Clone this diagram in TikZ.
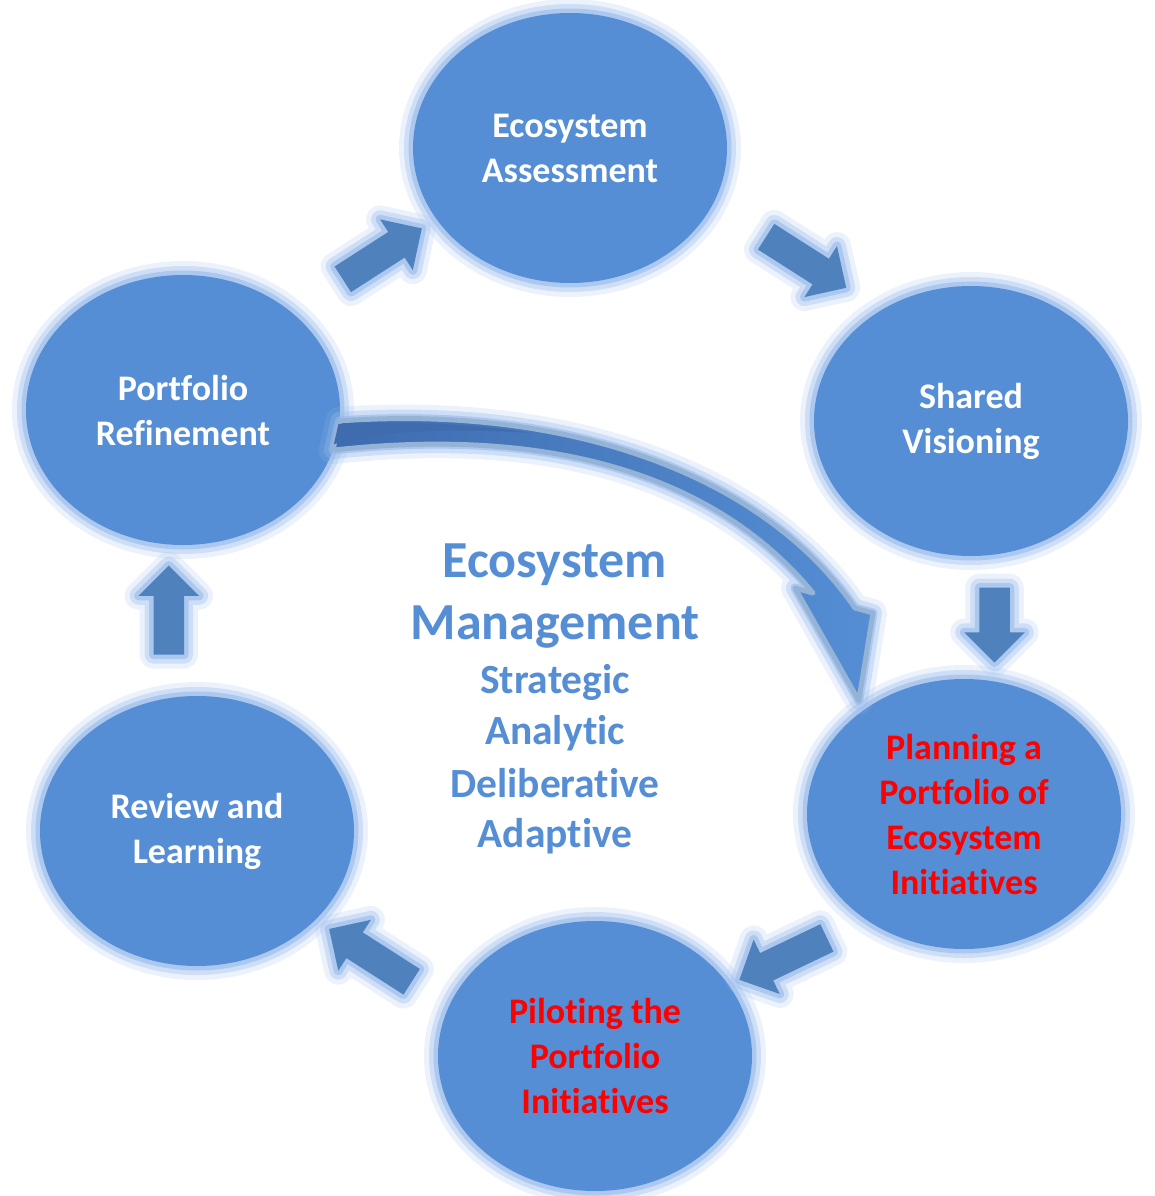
\documentclass[tikz,border=0pt]{standalone}
\usepackage{fontspec}
\setmainfont{Carlito}[Ligatures=NoCommon]
\usetikzlibrary{shapes.geometric,shapes.arrows,calc}
\definecolor{nodeblue}{RGB}{85,142,213}
\definecolor{arrblue}{RGB}{79,129,189}
\definecolor{darkblue}{RGB}{62,108,174}
\definecolor{glowblue}{RGB}{150,185,235}
\definecolor{rimgray}{RGB}{149,179,215}
\definecolor{hotred}{RGB}{255,0,0}
\tikzset{
  glow/.style={preaction={draw=glowblue,line width=28pt,opacity=.18,line join=round},
    preaction={draw=glowblue,line width=18pt,opacity=.35,line join=round},
    preaction={draw=glowblue,line width=9pt,opacity=.6,line join=round}},
  bubble/.style={ellipse,glow,fill=nodeblue,minimum width=314pt,minimum height=270pt,
    inner sep=0pt,outer sep=0pt,align=center,text=white,font=\bfseries\fontsize{36}{45}\selectfont},
  blockarrow/.style={single arrow,glow,fill=arrblue,single arrow head extend=15pt,
    text height=30pt,text depth=0pt,minimum width=60pt,inner sep=0pt,outer sep=0pt},
  midtext/.style={text=nodeblue,font=\bfseries\fontsize{#1}{#1}\selectfont,anchor=base}
}
\begin{document}
\begin{tikzpicture}[x=1pt,y=-1pt]
\useasboundingbox (0,0) rectangle (1154,1196);
% the six steps
\foreach \n/\p/\c/\t in {
  assess/{570,148}/white/{Ecosystem\\Assessment},
  vision/{971,421}/white/{Shared\\Visioning},
  plan/{964,814}/hotred/{Planning a\\Portfolio of\\Ecosystem\\Initiatives},
  pilot/{595,1056}/hotred/{Piloting the\\Portfolio\\Initiatives},
  review/{197,831}/white/{Review and\\Learning},
  refine/{183,410}/white/{Portfolio\\Refinement}}
  \node[bubble,text=\c] (\n) at (\p) {\t};
% block arrows round the cycle: from/to/gap to middle/length
\foreach \a/\b/\gap/\len [count=\i] in {refine.42/assess.208/100.5/94,
  assess.-21/vision.129/102.5/95, vision.-80/plan.77/63/75,
  plan.227/pilot.28/84/97, pilot.161/review.-37/86/98, review.102/refine.-96/80.5/89}
  \path let \p1=(\a), \p2=(\b), \n1={atan2(\y2-\y1,\x2-\x1)} in
    ($(\p1)!\gap pt!(\p2)$) node[blockarrow,rotate=\n1,minimum height=\len pt] (arr\i) {};
% curved shortcut
\path[glow,left color=darkblue,right color=nodeblue,draw=rimgray,line width=5pt,line join=round]
  (refine.-4) .. controls (560,405) and (760,470) .. (855,608) -- (873,613)
  -- ([shift={(-7,-8)}]plan.133) -- (795,588) -- (813,593)
  .. controls (720,480) and (560,425) .. (refine.-15) -- cycle;
\fill[darkblue] ([shift={(-1,3)}]refine.-4) .. controls (420,421) and (480,425) .. (530,433)
  .. controls (470,429) and (390,428) .. ([shift={(1,-6)}]refine.-15) -- cycle;
% centre text
\foreach \t/\y/\s [count=\i] in {Ecosystem/577/52,Management/639/52,Strategic/693/41.5,
  Analytic/744/41.5,Deliberative/797/41.5,Adaptive/847/41.5}
  \node[midtext=\s] (mid\i) at (555,\y) {\t};
\end{tikzpicture}
\end{document}
